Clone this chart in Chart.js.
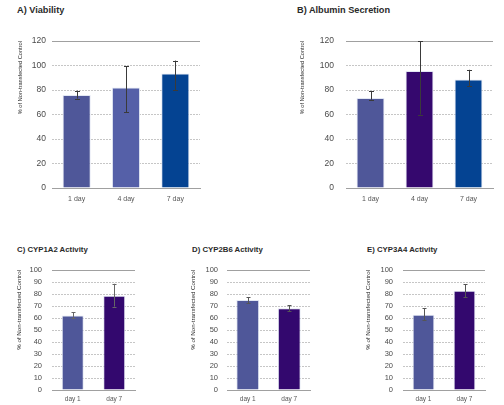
<!DOCTYPE html>
<html><head><meta charset="utf-8">
<script src="https://cdn.jsdelivr.net/npm/chart.js@4.4.1/dist/chart.umd.min.js"></script>
<style>
html,body{margin:0;padding:0;background:#fff}
body{width:504px;height:405px;position:relative;overflow:hidden;font-family:'Liberation Sans',Arial,sans-serif}
.t{position:absolute;font-weight:bold;color:#2a2a2a;white-space:nowrap}
canvas{position:absolute}
</style></head><body>
<script>
// ---- data ----
const yTitle = '% of Non-transfected Control';
const titleA = 'A)  Viability';
const catsA = ['1 day','4 day','7 day'];
const valsA = [76, 82, 93.5];
const lowA  = [73, 62, 80];
const highA = [79.5, 99.5, 104];
const colsA = ['#4f5799','#5560a8','#044392'];

const titleB = 'B)  Albumin Secretion';
const catsB = ['1 day','4 day','7 day'];
const valsB = [73.5, 95.5, 88.5];
const lowB  = [72, 60, 83];
const highB = [79, 120, 96.5];
const colsB = ['#4f5799','#35086e','#044392'];

const titleC = 'C) CYP1A2 Activity';
const catsC = ['day 1','day 7'];
const valsC = [62, 78.5];
const lowC  = [60, 69.5];
const highC = [65, 88.5];

const titleD = 'D)  CYP2B6 Activity';
const catsD = ['day 1','day 7'];
const valsD = [75, 68.2];
const lowD  = [72.5, 65.5];
const highD = [77.2, 70.5];

const titleE = 'E)  CYP3A4 Activity';
const catsE = ['day 1','day 7'];
const valsE = [62.7, 82.7];
const lowE  = [58, 77.2];
const highE = [68.2, 88.3];
const colsCYP = ['#4f5799','#33086e'];

const ticksTop = [0,20,40,60,80,100,120];
const ticksBottom = [0,10,20,30,40,50,60,70,80,90,100];

// ---- error bar plugin ----
const errPlugin = {
  id:'err',
  afterDatasetsDraw(chart, args, opts){
    const ctx = chart.ctx, meta = chart.getDatasetMeta(0), ys = chart.scales.y;
    ctx.save();
    ctx.strokeStyle = opts.color; ctx.lineWidth = 1;
    meta.data.forEach((bar,i)=>{
      const x = Math.round(bar.x)+0.5;
      const y1 = ys.getPixelForValue(opts.low[i]), y2 = ys.getPixelForValue(opts.high[i]);
      const c = opts.cap;
      ctx.beginPath();
      ctx.moveTo(x,y1); ctx.lineTo(x,y2);
      ctx.moveTo(x-c,Math.round(y1)+0.5); ctx.lineTo(x+c,Math.round(y1)+0.5);
      ctx.moveTo(x-c,Math.round(y2)+0.5); ctx.lineTo(x+c,Math.round(y2)+0.5);
      ctx.stroke();
    });
    ctx.restore();
  }
};

function addTitle(text, left, cy, size){
  const d = document.createElement('div');
  d.className='t'; d.textContent=text;
  d.style.left=left+'px'; d.style.top=(cy-size/2)+'px';
  d.style.fontSize=size+'px'; d.style.lineHeight=size+'px';
  document.body.appendChild(d);
}

function panel(p){
  const c = document.createElement('canvas');
  c.width=p.w; c.height=p.h;
  c.style.left=p.l+'px'; c.style.top=p.t+'px';
  c.style.width=p.w+'px'; c.style.height=p.h+'px';
  document.body.appendChild(c);
  const padL = Math.round(p.yTitleX - p.yTitleSize*0.6 - p.l);
  const yW = p.plotL - p.l - padL;
  const padR = p.l + p.w - p.plotR;
  const padT = p.plotT - p.t;
  const xH = p.t + p.h - p.plotB;
  const ymax = p.ticks[p.ticks.length-1];
  new Chart(c, {
    type:'bar',
    data:{labels:p.cats, datasets:[{data:p.vals, backgroundColor:p.cols, borderColor:'#e2e7f3', borderWidth:1, barPercentage:p.barPct, categoryPercentage:1}]},
    options:{
      responsive:false, animation:false, devicePixelRatio:1,
      layout:{padding:{left:padL, right:padR, top:padT, bottom:0}},
      plugins:{legend:{display:false}, tooltip:{enabled:false}, err:{low:p.low, high:p.high, cap:p.cap, color:p.errColor}},
      scales:{
        x:{grid:{display:false, drawTicks:false}, border:{display:true, color:'#a0a0a0', width:1},
           ticks:{font:{size:p.xFont, family:'Liberation Sans'}, color:'#555', padding:p.xPad, maxRotation:0},
           afterFit:s=>{s.height=xH;}},
        y:{min:0, max:ymax,
           afterBuildTicks:s=>{s.ticks = p.ticks.map(v=>({value:v}));},
           ticks:{font:{size:p.yFont, family:'Liberation Sans'}, color:'#4a4a4a', padding:p.tickGap},
           grid:{drawTicks:false, lineWidth:1, color:ctx=>(ctx.tick && (ctx.tick.value===ymax||ctx.tick.value===0))?'#a0a0a0':'#c6c6c6'},
           border:{display:false, dash:ctx=>(ctx.tick && (ctx.tick.value===ymax||ctx.tick.value===0))?[]:[2,1]},
           title:{display:true, text:yTitle, align:'end', font:{size:p.yTitleSize, family:'Liberation Sans'}, color:'#2a2a2a', padding:0},
           afterFit:s=>{s.width=yW;}}
      }
    },
    plugins:[errPlugin]
  });
}

addTitle(titleA, 17, 11, 9.2);
addTitle(titleB, 297, 11, 9.2);
addTitle(titleC, 17, 250, 7.8);
addTitle(titleD, 192, 249.5, 7.8);
addTitle(titleE, 367, 249.5, 7.8);

panel({l:0,t:0,w:210,h:210, plotL:52,plotR:200,plotT:41,plotB:188, yTitleX:20, yTitleSize:5.7, tickGap:6,
  cats:catsA, vals:valsA, low:lowA, high:highA, cols:colsA, ticks:ticksTop, barPct:0.57, cap:2.5, xFont:7, yFont:8.5, xPad:7, errColor:'#3a3a3a'});
panel({l:252,t:0,w:252,h:210, plotL:346,plotR:493,plotT:41,plotB:188, yTitleX:302, yTitleSize:5.7, tickGap:12,
  cats:catsB, vals:valsB, low:lowB, high:highB, cols:colsB, ticks:ticksTop, barPct:0.57, cap:2.5, xFont:7, yFont:8.5, xPad:7, errColor:'#3a3a3a'});
panel({l:0,t:210,w:165,h:195, plotL:52,plotR:135,plotT:270,plotB:390, yTitleX:20, yTitleSize:6.2, tickGap:10,
  cats:catsC, vals:valsC, low:lowC, high:highC, cols:colsCYP, ticks:ticksBottom, barPct:0.53, cap:2, xFont:6.5, yFont:7.5, xPad:5, errColor:'#666'});
panel({l:165,t:210,w:165,h:195, plotL:227,plotR:310,plotT:270,plotB:390, yTitleX:194, yTitleSize:6.2, tickGap:9,
  cats:catsD, vals:valsD, low:lowD, high:highD, cols:colsCYP, ticks:ticksBottom, barPct:0.55, cap:2, xFont:6.5, yFont:7.5, xPad:5, errColor:'#555'});
panel({l:330,t:210,w:174,h:195, plotL:403,plotR:485,plotT:270,plotB:390, yTitleX:369, yTitleSize:6.2, tickGap:10,
  cats:catsE, vals:valsE, low:lowE, high:highE, cols:colsCYP, ticks:ticksBottom, barPct:0.53, cap:2, xFont:6.5, yFont:7.5, xPad:5, errColor:'#555'});
</script>
</body></html>
